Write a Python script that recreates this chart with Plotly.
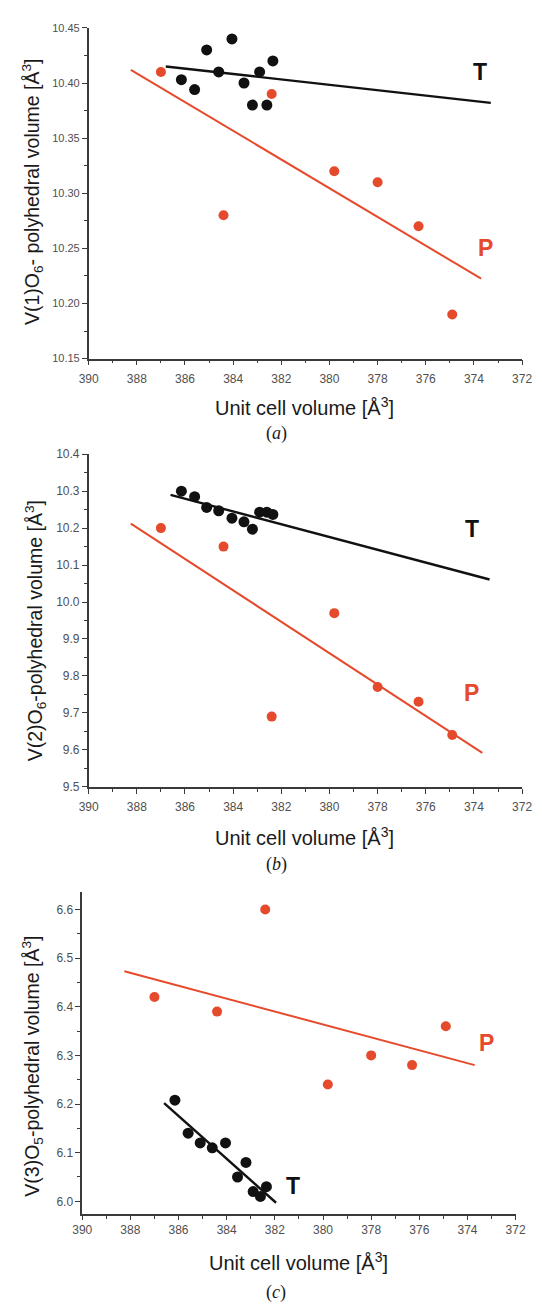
import plotly.graph_objects as go

# Unit cell volume (Å^3) for each phase
vol_P = [387.0, 384.4, 382.4, 379.8, 378.0, 376.3, 374.9]
vol_T = [386.15, 385.6, 385.1, 384.6, 384.05, 383.55, 383.2, 382.9, 382.6, 382.35]

# (a) V(1)O6 polyhedral volume
v1_P = [10.41, 10.28, 10.39, 10.32, 10.31, 10.27, 10.19]
v1_T = [10.403, 10.394, 10.43, 10.41, 10.44, 10.40, 10.38, 10.41, 10.38, 10.42]
fit1_P_x = [388.25, 373.7]
fit1_P_y = [10.412, 10.2225]
fit1_T_x = [386.8, 373.3]
fit1_T_y = [10.415, 10.382]

# (b) V(2)O6 polyhedral volume
v2_P = [10.20, 10.15, 9.69, 9.97, 9.77, 9.73, 9.64]
v2_T = [10.30, 10.285, 10.256, 10.247, 10.227, 10.217, 10.197, 10.243, 10.243, 10.237]
fit2_P_x = [388.25, 373.65]
fit2_P_y = [10.212, 9.592]
fit2_T_x = [386.6, 373.35]
fit2_T_y = [10.29, 10.061]

# (c) V(3)O5 polyhedral volume
v3_P = [6.42, 6.39, 6.60, 6.24, 6.30, 6.28, 6.36]
v3_T = [6.208, 6.14, 6.12, 6.11, 6.12, 6.05, 6.08, 6.02, 6.01, 6.03]
fit3_P_x = [388.25, 373.7]
fit3_P_y = [6.473, 6.28]
fit3_T_x = [386.6, 381.95]
fit3_T_y = [6.202, 5.997]

RED = "#e64a2c"
BLACK = "#111111"
AXC = "#3a3a3a"
W, H = 542, 1309

panels = [
    dict(P=v1_P, T=v1_T, fPx=fit1_P_x, fPy=fit1_P_y, fTx=fit1_T_x, fTy=fit1_T_y),
    dict(P=v2_P, T=v2_T, fPx=fit2_P_x, fPy=fit2_P_y, fTx=fit2_T_x, fTy=fit2_T_y),
    dict(P=v3_P, T=v3_T, fPx=fit3_P_x, fPy=fit3_P_y, fTx=fit3_T_x, fTy=fit3_T_y),
]

fig = go.Figure()
for i, p in enumerate(panels):
    sfx = "" if i == 0 else str(i + 1)
    xa, ya = "x" + sfx, "y" + sfx
    fig.add_trace(go.Scatter(x=p["fTx"], y=p["fTy"], mode="lines",
                             line=dict(color=BLACK, width=2.4),
                             xaxis=xa, yaxis=ya, showlegend=False))
    fig.add_trace(go.Scatter(x=p["fPx"], y=p["fPy"], mode="lines",
                             line=dict(color=RED, width=2),
                             xaxis=xa, yaxis=ya, showlegend=False))
    fig.add_trace(go.Scatter(x=vol_T, y=p["T"], mode="markers",
                             marker=dict(color=BLACK, size=11),
                             xaxis=xa, yaxis=ya, showlegend=False))
    fig.add_trace(go.Scatter(x=vol_P, y=p["P"], mode="markers",
                             marker=dict(color=RED, size=10),
                             xaxis=xa, yaxis=ya, showlegend=False))


def px_x(v):
    return v / W


def px_y(v):
    return 1 - v / H


SANS = "Liberation Sans, Arial, sans-serif"


def tfont(size):
    return dict(family=SANS, size=size, color="#505050")


def xaxis(left, right, anchor, ticklen=5, standoff=3):
    return dict(domain=[px_x(left), px_x(right)], anchor=anchor,
                range=[390, 372], tick0=372, dtick=2,
                showgrid=False, zeroline=False, showline=True,
                linecolor=AXC, linewidth=1.5,
                ticks="outside", ticklen=ticklen, tickwidth=1.3, tickcolor=AXC,
                ticklabelstandoff=standoff,
                minor=dict(ticks="outside", ticklen=3, tickwidth=1.2,
                           tickcolor=AXC, dtick=1, tick0=372, showgrid=False),
                tickfont=tfont(12))


def yaxis(top, bottom, anchor, rng, dtick, mdtick, fmt, tick0, fsize):
    return dict(domain=[px_y(bottom), px_y(top)], anchor=anchor,
                range=rng, dtick=dtick, tick0=tick0, tickformat=fmt,
                showgrid=False, zeroline=False, showline=True,
                linecolor=AXC, linewidth=1.5,
                ticks="outside", ticklen=5, tickwidth=1.3, tickcolor=AXC,
                minor=dict(ticks="outside", ticklen=3, tickwidth=1.2,
                           tickcolor=AXC, dtick=mdtick, tick0=tick0, showgrid=False),
                tickfont=tfont(fsize))


fig.update_layout(
    width=W, height=H,
    margin=dict(l=0, r=0, t=0, b=0),
    paper_bgcolor="white", plot_bgcolor="white",
    xaxis=xaxis(81.7, 531.7, "y"),
    yaxis=yaxis(21, 355.5, "x", [10.1499, 10.4501], 0.05, 0.025, ".2f", 10.15, 11),
    xaxis2=xaxis(81.7, 531.7, "y2"),
    yaxis2=yaxis(452, 788.3, "x2", [9.4999, 10.4001], 0.1, 0.05, ".1f", 9.5, 12),
    xaxis3=xaxis(75, 525, "y3", ticklen=4, standoff=0),
    yaxis3=yaxis(895, 1220, "x3", [5.974, 6.635], 0.1, 0.05, ".1f", 6.0, 12),
)

title_font = dict(family=SANS, size=20, color="#1a1a1a")
ytitle_font = dict(family=SANS, size=19.5, color="#1a1a1a")
cap_font = dict(family="Liberation Serif, Times New Roman, serif", size=18, color="#1a1a1a")
lab_font = dict(family=SANS, size=23, color=BLACK)

xtitle = "Unit cell volume [Å<sup>3</sup>]"
ytitles = [
    "V(1)O<sub>6</sub>- polyhedral volume [Å<sup>3</sup>]",
    "V(2)O<sub>6</sub>-polyhedral volume [Å<sup>3</sup>]",
    "V(3)O<sub>5</sub>-polyhedral volume [Å<sup>3</sup>]",
]
captions = ["(<i>a</i>)", "(<i>b</i>)", "(<i>c</i>)"]
xt_pos = [(306, 404), (306, 838.5), (299.5, 1268.5)]
cap_pos = [(277, 431), (277, 867), (276, 1299)]
yt_pos = [(24, 187), (26, 631), (23, 1071)]

# T / P labels in data coordinates
lab_T = [(373.75, 10.41), (374.1, 10.197), (381.25, 6.032)]
lab_P = [(373.5, 10.25), (374.1, 9.753), (373.2, 6.325)]

ann = []
for i in range(3):
    sfx = "" if i == 0 else str(i + 1)
    ann.append(dict(text=xtitle, x=px_x(xt_pos[i][0]), y=px_y(xt_pos[i][1]),
                    xref="paper", yref="paper", showarrow=False,
                    xanchor="center", yanchor="middle", font=title_font))
    ann.append(dict(text=captions[i], x=px_x(cap_pos[i][0]), y=px_y(cap_pos[i][1]),
                    xref="paper", yref="paper", showarrow=False,
                    xanchor="center", yanchor="middle", font=cap_font))
    ann.append(dict(text=ytitles[i], x=px_x(yt_pos[i][0]), y=px_y(yt_pos[i][1]),
                    xref="paper", yref="paper", showarrow=False, textangle=-90,
                    xanchor="center", yanchor="middle", font=ytitle_font))
    ann.append(dict(text="<b>T</b>", x=lab_T[i][0], y=lab_T[i][1],
                    xref="x" + sfx, yref="y" + sfx, showarrow=False,
                    xanchor="center", yanchor="middle", font=lab_font))
    ann.append(dict(text="<b>P</b>", x=lab_P[i][0], y=lab_P[i][1],
                    xref="x" + sfx, yref="y" + sfx, showarrow=False,
                    xanchor="center", yanchor="middle",
                    font=dict(lab_font, color=RED)))

fig.update_layout(annotations=ann)
fig.write_html("out.html")
